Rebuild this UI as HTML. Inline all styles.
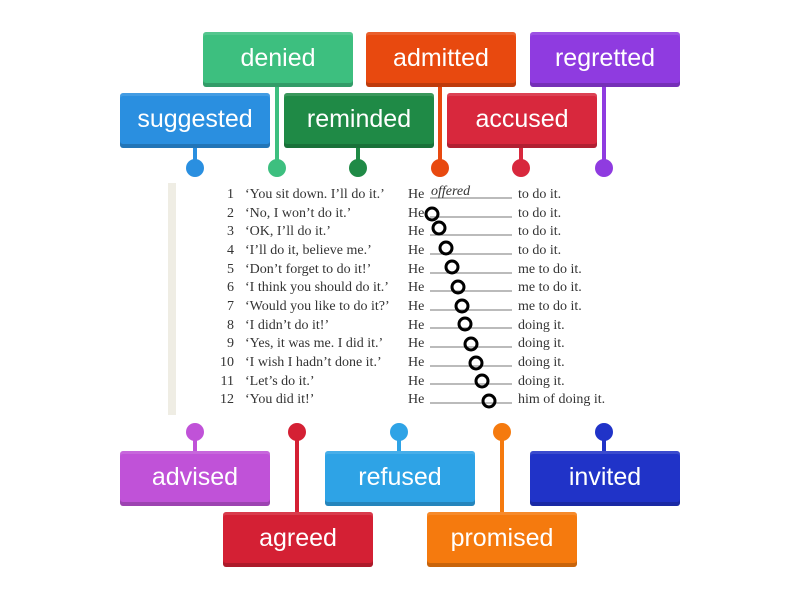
<!DOCTYPE html>
<html><head><style>
body{margin:0;width:800px;height:600px;background:#fff;position:relative;overflow:hidden;font-family:"Liberation Sans",sans-serif}
.b{position:absolute;width:150px;height:55px;border-radius:3px;color:#fff;font-size:25px;text-align:center;line-height:53px;box-shadow:inset 0 -4px 0 rgba(0,0,0,.18),inset 0 3px 0 rgba(255,255,255,.12)}
.t{position:absolute;font-family:"Liberation Serif",serif;font-size:14px;color:#333;white-space:nowrap}
</style></head><body>
<svg width="800" height="600" style="position:absolute;left:0;top:0">
<rect x="168" y="183" width="452" height="232" fill="#fff"/>
<rect x="168" y="183" width="8" height="232" fill="#efede4"/>
<g stroke-width="4">
<line x1="195" y1="148" x2="195" y2="168" stroke="#2a8fe0"/>
<line x1="277" y1="87" x2="277" y2="168" stroke="#3dbf7f"/>
<line x1="358" y1="148" x2="358" y2="168" stroke="#1f8a46"/>
<line x1="440" y1="87" x2="440" y2="168" stroke="#e8490f"/>
<line x1="521" y1="148" x2="521" y2="168" stroke="#d8283d"/>
<line x1="604" y1="87" x2="604" y2="168" stroke="#8f3be0"/>
<line x1="195" y1="432" x2="195" y2="452" stroke="#c052d8"/>
<line x1="297" y1="432" x2="297" y2="514" stroke="#d42034"/>
<line x1="399" y1="432" x2="399" y2="452" stroke="#2ea3e6"/>
<line x1="502" y1="432" x2="502" y2="514" stroke="#f57a0e"/>
<line x1="604" y1="432" x2="604" y2="452" stroke="#2033c8"/>
</g>
<circle cx="195" cy="168" r="9" fill="#2a8fe0"/><circle cx="277" cy="168" r="9" fill="#3dbf7f"/>
<circle cx="358" cy="168" r="9" fill="#1f8a46"/><circle cx="440" cy="168" r="9" fill="#e8490f"/>
<circle cx="521" cy="168" r="9" fill="#d8283d"/><circle cx="604" cy="168" r="9" fill="#8f3be0"/>
<circle cx="195" cy="432" r="9" fill="#c052d8"/><circle cx="297" cy="432" r="9" fill="#d42034"/>
<circle cx="399" cy="432" r="9" fill="#2ea3e6"/><circle cx="502" cy="432" r="9" fill="#f57a0e"/>
<circle cx="604" cy="432" r="9" fill="#2033c8"/>
<g stroke="#777" stroke-width="1">
<line x1="430" y1="198" x2="512" y2="198"/><line x1="430" y1="217" x2="512" y2="217"/>
<line x1="430" y1="235" x2="512" y2="235"/><line x1="430" y1="254" x2="512" y2="254"/>
<line x1="430" y1="273" x2="512" y2="273"/><line x1="430" y1="291" x2="512" y2="291"/>
<line x1="430" y1="310" x2="512" y2="310"/><line x1="430" y1="328" x2="512" y2="328"/>
<line x1="430" y1="347" x2="512" y2="347"/><line x1="430" y1="366" x2="512" y2="366"/>
<line x1="430" y1="384" x2="512" y2="384"/><line x1="430" y1="403" x2="512" y2="403"/>
</g>
</svg>
<div class="t" style="left:220px;top:186px;line-height:18.65px;text-align:right;width:14px">1<br>2<br>3<br>4<br>5<br>6<br>7<br>8<br>9<br>10<br>11<br>12</div>
<div class="t" style="left:245px;top:186px;line-height:18.65px">‘You sit down. I’ll do it.’<br>‘No, I won’t do it.’<br>‘OK, I’ll do it.’<br>‘I’ll do it, believe me.’<br>‘Don’t forget to do it!’<br>‘I think you should do it.’<br>‘Would you like to do it?’<br>‘I didn’t do it!’<br>‘Yes, it was me. I did it.’<br>‘I wish I hadn’t done it.’<br>‘Let’s do it.’<br>‘You did it!’</div>
<div class="t" style="left:408px;top:186px;line-height:18.65px">He<br>He<br>He<br>He<br>He<br>He<br>He<br>He<br>He<br>He<br>He<br>He</div>
<div class="t" style="left:431px;top:184px;font-style:italic">offered</div>
<div class="t" style="left:518px;top:186px;line-height:18.65px">to do it.<br>to do it.<br>to do it.<br>to do it.<br>me to do it.<br>me to do it.<br>me to do it.<br>doing it.<br>doing it.<br>doing it.<br>doing it.<br>him of doing it.</div>
<svg width="800" height="600" style="position:absolute;left:0;top:0">
<g fill="none" stroke="#000" stroke-width="3">
<circle cx="432" cy="214" r="6"/><circle cx="439" cy="228" r="6"/><circle cx="446" cy="248" r="6"/>
<circle cx="452" cy="267" r="6"/><circle cx="458" cy="287" r="6"/><circle cx="462" cy="306" r="6"/>
<circle cx="465" cy="324" r="6"/><circle cx="471" cy="344" r="6"/><circle cx="476" cy="363" r="6"/>
<circle cx="482" cy="381" r="6"/><circle cx="489" cy="401" r="6"/>
</g></svg>
<div class="b" style="left:203px;top:32px;background:#3dbf7f">denied</div>
<div class="b" style="left:366px;top:32px;background:#e8490f">admitted</div>
<div class="b" style="left:530px;top:32px;background:#8f3be0">regretted</div>
<div class="b" style="left:120px;top:93px;background:#2a8fe0">suggested</div>
<div class="b" style="left:284px;top:93px;background:#1f8a46">reminded</div>
<div class="b" style="left:447px;top:93px;background:#d8283d">accused</div>
<div class="b" style="left:120px;top:451px;background:#c052d8">advised</div>
<div class="b" style="left:325px;top:451px;background:#2ea3e6">refused</div>
<div class="b" style="left:530px;top:451px;background:#2033c8">invited</div>
<div class="b" style="left:223px;top:512px;background:#d42034">agreed</div>
<div class="b" style="left:427px;top:512px;background:#f57a0e">promised</div>
</body></html>
